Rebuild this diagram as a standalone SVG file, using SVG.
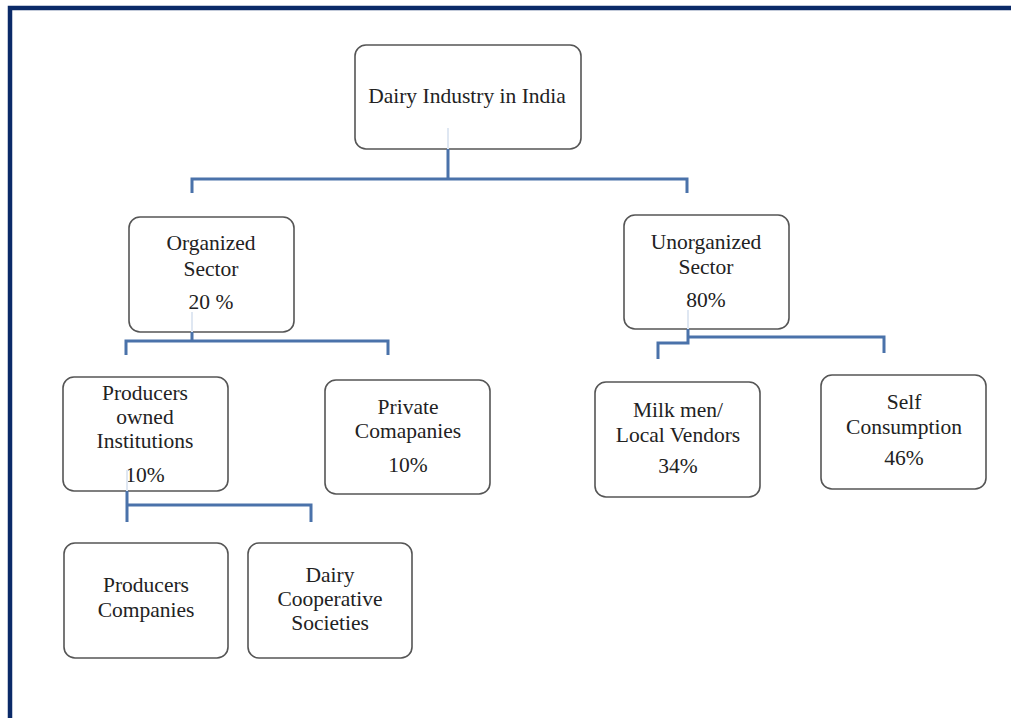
<svg xmlns="http://www.w3.org/2000/svg" width="1011" height="718" viewBox="0 0 1011 718">
<style>
.box{fill:#fff;stroke:#555;stroke-width:1.6}
.t{font-family:"Liberation Serif","Times New Roman",serif;font-size:21.5px;fill:#222;text-anchor:middle}
.c{fill:none;stroke:#4a72aa;stroke-width:3;stroke-linejoin:miter}
.f{fill:none;stroke:#dfe7f2;stroke-width:2}
</style>
<rect width="1011" height="718" fill="#fff"/>
<path d="M10,718 V8 H1011" fill="none" stroke="#0b2a68" stroke-width="4.5"/>
<g id="n-dairy"><rect class="box" x="355" y="45" width="226" height="104" rx="11"/><text class="t" x="467" y="103">Dairy Industry in India</text></g>
<g id="n-org"><rect class="box" x="129" y="217" width="165" height="115" rx="11"/><text class="t" x="211" y="250">Organized</text><text class="t" x="211" y="276">Sector</text><text class="t" x="211" y="309">20 %</text></g>
<g id="n-unorg"><rect class="box" x="624" y="215" width="165" height="114" rx="11"/><text class="t" x="706" y="249">Unorganized</text><text class="t" x="706" y="274">Sector</text><text class="t" x="706" y="307">80%</text></g>
<g id="n-prodowned"><rect class="box" x="63" y="377" width="165" height="114" rx="11"/><text class="t" x="145" y="400">Producers</text><text class="t" x="145" y="424">owned</text><text class="t" x="145" y="448">Institutions</text><text class="t" x="145" y="482">10%</text></g>
<g id="n-private"><rect class="box" x="325" y="380" width="165" height="114" rx="11"/><text class="t" x="408" y="414">Private</text><text class="t" x="408" y="438">Comapanies</text><text class="t" x="408" y="472">10%</text></g>
<g id="n-milkmen"><rect class="box" x="595" y="382" width="165" height="115" rx="11"/><text class="t" x="678" y="417">Milk men/</text><text class="t" x="678" y="442">Local Vendors</text><text class="t" x="678" y="473">34%</text></g>
<g id="n-self"><rect class="box" x="821" y="375" width="165" height="114" rx="11"/><text class="t" x="904" y="409">Self</text><text class="t" x="904" y="434">Consumption</text><text class="t" x="904" y="465">46%</text></g>
<g id="n-prodcomp"><rect class="box" x="64" y="543" width="164" height="115" rx="11"/><text class="t" x="146" y="592">Producers</text><text class="t" x="146" y="617">Companies</text></g>
<g id="n-coop"><rect class="box" x="248" y="543" width="164" height="115" rx="11"/><text class="t" x="330" y="582">Dairy</text><text class="t" x="330" y="606">Cooperative</text><text class="t" x="330" y="630">Societies</text></g>
<g id="connectors">
<path class="f" d="M448,128 V149 M192,312 V332 M688,310 V329 M127,470 V491"/>
<path class="c" d="M448,149 V179 M192,193 V179 H687 V193"/>
<path class="c" d="M192,332 V341 M126,355 V341 H388 V355"/>
<path class="c" d="M688,329 V343 H658 V359 M688,337 H884 V353"/>
<path class="c" d="M127,491 V522 M127,505 H311 V522"/>
</g>
</svg>
